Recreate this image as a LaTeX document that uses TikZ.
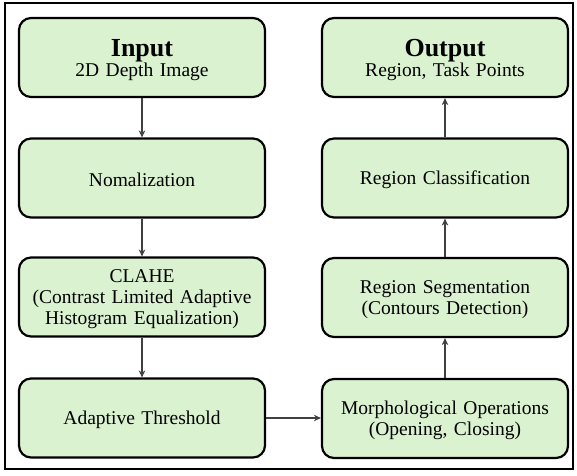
\documentclass[tikz,border=0pt]{standalone}
\usepackage{fontspec}
\setmainfont{Liberation Serif}
\usetikzlibrary{arrows.meta}
\definecolor{boxgreen}{HTML}{DAF2D0}
\definecolor{arrowgray}{HTML}{404040}
\newcommand{\bodyfs}{\fontsize{19.5}{21}\selectfont}
\newcommand{\titlefs}{\fontsize{26}{28}\selectfont\bfseries}
\begin{document}
\begin{tikzpicture}[x=1pt,y=-1pt,
  stepbox/.style={draw=black, line width=2.2pt, fill=boxgreen, rounded corners=12pt,
    minimum width=246pt, minimum height=79pt, align=center, inner sep=0pt,
    text width=240pt, font=\bodyfs},
  arr/.style={draw=arrowgray, line width=2.2pt, -{Stealth[length=7pt,width=6.5pt]}}]
\useasboundingbox (0,0) rectangle (577,475);
\draw[line width=1.5pt] (5,3) rectangle (573,469);
\node[stepbox] (in) at (142,57.5) {{\titlefs\rule{0pt}{22pt}Input}\\[-1pt]2D Depth Image};
\node[stepbox] (nom) at (142,178) {\rule{0pt}{17pt}Nomalization};
\node[stepbox] (cla) at (142,297) {\rule{0pt}{17pt}CLAHE\\(Contrast Limited Adaptive\\Histogram Equalization)};
\node[stepbox] (ada) at (142,418) {\rule{0pt}{17pt}Adaptive Threshold};
\node[stepbox] (out) at (445,57.5) {{\titlefs\rule{0pt}{22pt}Output}\\[-1pt]Region, Task Points};
\node[stepbox] (cls) at (445,178) {\rule{0pt}{17pt}Region Classification};
\node[stepbox] (seg) at (445,297.5) {\rule{0pt}{17pt}Region Segmentation\\(Contours Detection)};
\node[stepbox] (mor) at (445,418.5) {\rule{0pt}{17pt}Morphological Operations\\(Opening, Closing)};
\draw[arr] (in) -- (nom);
\draw[arr] (nom) -- (cla);
\draw[arr] (cla) -- (ada);
\draw[arr] (ada.east) -- (ada.east -| mor.west);
\draw[arr] (mor) -- (seg);
\draw[arr] (seg) -- (cls);
\draw[arr] (cls) -- (out);
\end{tikzpicture}
\end{document}
